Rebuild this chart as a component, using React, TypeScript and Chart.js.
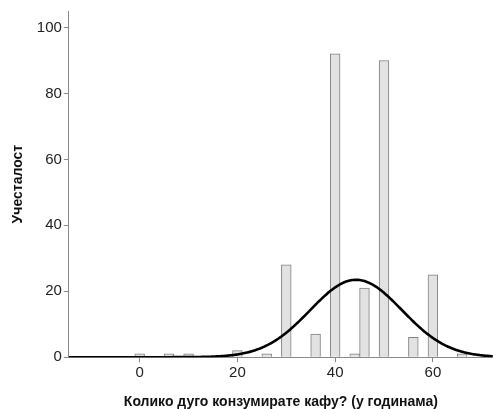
import React, { useEffect, useRef } from "react";
import { Chart, registerables } from "chart.js";

Chart.register(...registerables);

// Histogram bins (bin centre, years) and their frequencies
const BIN_CENTERS = [0, 6, 10, 20, 26, 30, 36, 40, 44, 46, 50, 56, 60, 66];
const FREQUENCIES = [1, 1, 1, 2, 1, 28, 7, 92, 1, 21, 90, 6, 25, 1];
const BIN_WIDTH = 2;

const X_TICKS = [0, 20, 40, 60];
const Y_TICKS = [0, 20, 40, 60, 80, 100];

const X_MIN = -14.5;
const X_MAX = 72.3;
const Y_MAX = 105;

const X_TITLE = "Колико дуго конзумирате кафу? (у годинама)";
const Y_TITLE = "Учесталост";

const FONT = "Arial, 'Liberation Sans', Helvetica, sans-serif";

// Normal curve fitted to the binned data (scaled to counts per bin)
function normalCurve() {
  const n = FREQUENCIES.reduce((a, b) => a + b, 0);
  const mean =
    BIN_CENTERS.reduce((s, x, i) => s + x * FREQUENCIES[i], 0) / n;
  const variance =
    BIN_CENTERS.reduce((s, x, i) => s + FREQUENCIES[i] * (x - mean) ** 2, 0) /
    (n - 1);
  const sd = Math.sqrt(variance);
  const pts: { x: number; y: number }[] = [];
  for (let x = X_MIN; x <= X_MAX + 0.001; x += 0.25) {
    const z = (x - mean) / sd;
    pts.push({
      x,
      y: (n * BIN_WIDTH * Math.exp(-0.5 * z * z)) / (sd * Math.sqrt(2 * Math.PI)),
    });
  }
  return pts;
}

export default function App() {
  const canvasRef = useRef<HTMLCanvasElement | null>(null);

  useEffect(() => {
    const canvas = canvasRef.current;
    if (!canvas) return;
    const chart = new Chart(canvas, {
      type: "bar",
      data: {
        datasets: [
          {
            type: "line",
            data: normalCurve(),
            borderColor: "#000000",
            borderWidth: 2.6,
            pointRadius: 0,
            fill: false,
            tension: 0,
            order: 0,
          } as any,
          {
            type: "bar",
            data: BIN_CENTERS.map((x, i) => ({ x, y: FREQUENCIES[i] })),
            backgroundColor: "#e2e2e2",
            borderColor: "#808080",
            borderWidth: 1,
            barPercentage: 1,
            categoryPercentage: 1,
            order: 1,
          },
        ],
      },
      options: {
        responsive: false,
        animation: false,
        events: [],
        layout: { padding: { top: 10, right: 0, bottom: -2, left: 10 } },
        plugins: {
          legend: { display: false },
          tooltip: { enabled: false },
        },
        scales: {
          x: {
            type: "linear",
            min: X_MIN,
            max: X_MAX,
            offset: false,
            afterBuildTicks: (scale: any) => {
              scale.ticks = X_TICKS.map((value) => ({ value }));
            },
            grid: {
              offset: false,
              drawOnChartArea: false,
              drawTicks: true,
              tickLength: 5,
              color: "#8a8a8a",
            },
            border: { display: true, color: "#8a8a8a", width: 1 },
            ticks: {
              color: "#222222",
              padding: 2,
              maxRotation: 0,
              font: { family: FONT, size: 15 },
            },
            title: {
              display: true,
              text: X_TITLE,
              color: "#111111",
              padding: { top: 10, bottom: 0 },
              font: { family: FONT, size: 14, weight: "bold" },
            },
          },
          y: {
            type: "linear",
            min: 0,
            max: Y_MAX,
            afterBuildTicks: (scale: any) => {
              scale.ticks = Y_TICKS.map((value) => ({ value }));
            },
            grid: {
              drawOnChartArea: false,
              drawTicks: true,
              tickLength: 5,
              color: "#8a8a8a",
            },
            border: { display: true, color: "#8a8a8a", width: 1 },
            ticks: {
              color: "#222222",
              padding: 2,
              font: { family: FONT, size: 15 },
            },
            title: {
              display: true,
              text: Y_TITLE,
              color: "#111111",
              padding: { top: 0, bottom: 8 },
              font: { family: FONT, size: 14, weight: "bold" },
            },
          },
        },
      },
    });
    return () => chart.destroy();
  }, []);

  return (
    <div
      style={{
        position: "fixed",
        left: 0,
        top: 0,
        width: 493,
        height: 409,
        background: "#ffffff",
      }}
    >
      <canvas ref={canvasRef} width={493} height={409} />
    </div>
  );
}
